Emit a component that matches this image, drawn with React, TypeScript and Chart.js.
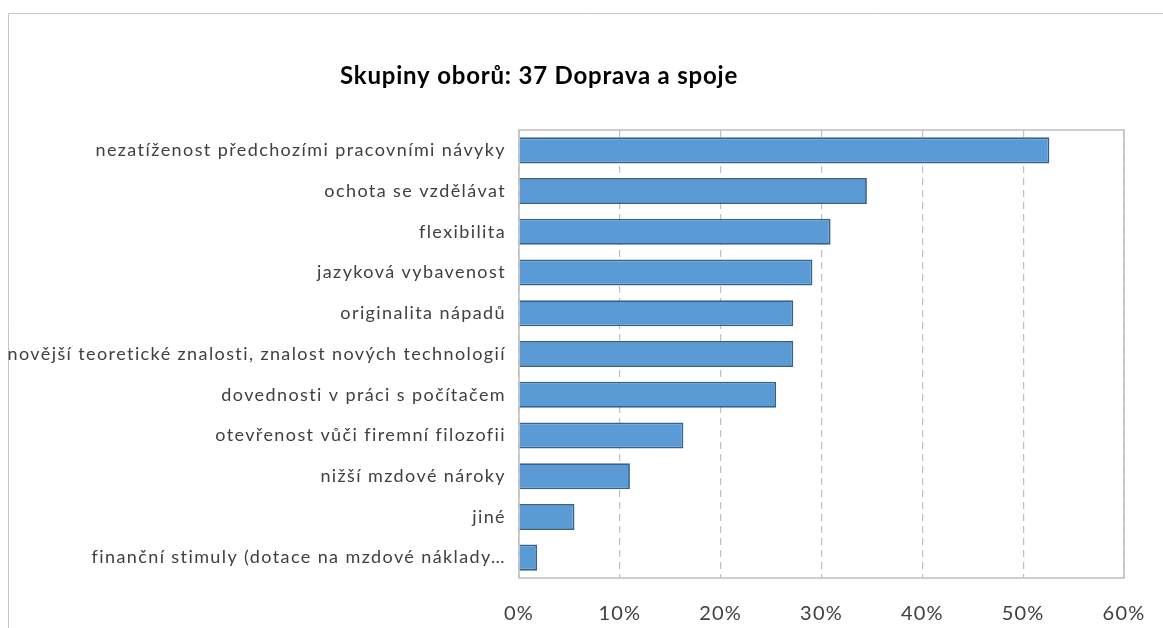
import React, { useEffect, useRef } from "react";
import { Chart, registerables } from "chart.js";

Chart.register(...registerables);

const categories = [
  "nezatíženost předchozími pracovními návyky",
  "ochota se vzdělávat",
  "flexibilita",
  "jazyková vybavenost",
  "originalita nápadů",
  "novější teoretické znalosti, znalost nových technologií",
  "dovednosti v práci s počítačem",
  "otevřenost vůči firemní filozofii",
  "nižší mzdové nároky",
  "jiné",
  "finanční stimuly (dotace na mzdové náklady…",
];

const values = [52.6, 34.5, 30.9, 29.1, 27.2, 27.2, 25.5, 16.3, 11.0, 5.5, 1.8];

const xTicks = [0, 10, 20, 30, 40, 50, 60];

const chartTitle = "Skupiny oborů: 37 Doprava a spoje";

const decorPlugin = {
  id: "decor",
  beforeDraw(chart: any) {
    const ctx = chart.ctx;
    ctx.save();
    ctx.fillStyle = "#ffffff";
    ctx.fillRect(0, 0, chart.width, chart.height);
    ctx.strokeStyle = "#c6c6c6";
    ctx.lineWidth = 1;
    ctx.beginPath();
    ctx.moveTo(8.5, chart.height);
    ctx.lineTo(8.5, 13.5);
    ctx.lineTo(chart.width, 13.5);
    ctx.stroke();
    ctx.fillStyle = "#000000";
    ctx.font = "bold 24px Lato";
    (ctx as any).letterSpacing = "0.8px";
    ctx.textAlign = "center";
    ctx.textBaseline = "middle";
    ctx.fillText(chartTitle, 539, 76);
    ctx.restore();
    (ctx as any).letterSpacing = "1.4px";
  },
  beforeDatasetsDraw(chart: any) {
    const { ctx, chartArea } = chart;
    ctx.save();
    ctx.strokeStyle = "#bfbfbf";
    ctx.lineWidth = 1.5;
    ctx.strokeRect(
      chartArea.left,
      chartArea.top,
      chartArea.right - chartArea.left,
      chartArea.bottom - chartArea.top
    );
    ctx.restore();
  },
  afterDatasetsDraw(chart: any) {
    (chart.ctx as any).letterSpacing = "1.2px";
  },
  afterDraw(chart: any) {
    (chart.ctx as any).letterSpacing = "0px";
  },
};

export default function App() {
  const ref = useRef<HTMLCanvasElement | null>(null);

  useEffect(() => {
    document.body.style.margin = "0";
    const canvas = ref.current!;
    const chart = new Chart(canvas, {
      type: "bar",
      data: {
        labels: categories,
        datasets: [
          {
            data: values,
            backgroundColor: "#5b9bd5",
            borderColor: "#35638f",
            borderWidth: 1.8,
            categoryPercentage: 0.8,
            barPercentage: 0.8,
          },
        ],
      },
      options: {
        indexAxis: "y",
        animation: false,
        responsive: false,
        maintainAspectRatio: false,
        layout: { padding: { top: 130, right: 39, bottom: 0, left: 0 } },
        plugins: {
          legend: { display: false },
          tooltip: { enabled: false },
          title: { display: false },
        },
        scales: {
          x: {
            min: 0,
            max: 60,
            afterFit(scale: any) {
              scale.height = 50;
              scale.paddingRight = 0;
              scale.paddingLeft = 0;
            },
            afterBuildTicks(scale: any) {
              scale.ticks = xTicks.map((v) => ({ value: v }));
            },
            ticks: {
              color: "#404040",
              font: { family: "Lato", size: 20 },
              padding: 24,
              z: 1,
              callback: (v: any) => `${v}%`,
            },
            grid: {
              color: "#bfbfbf",
              lineWidth: 1.2,
              drawTicks: false,
            },
            border: { display: false, dash: [7, 5] },
          },
          y: {
            afterFit(scale: any) {
              scale.width = 519;
            },
            ticks: {
              color: "#404040",
              font: { family: "Lato", size: 18 },
              padding: 13,
              autoSkip: false,
            },
            grid: { display: false, drawTicks: false },
            border: { display: false },
          },
        },
      },
      plugins: [decorPlugin],
    } as any);
    return () => chart.destroy();
  }, []);

  return (
    <div style={{ position: "fixed", left: 0, top: 0, width: 1163, height: 628 }}>
      <canvas ref={ref} width={1163} height={628} style={{ width: 1163, height: 628, display: "block" }} />
    </div>
  );
}
